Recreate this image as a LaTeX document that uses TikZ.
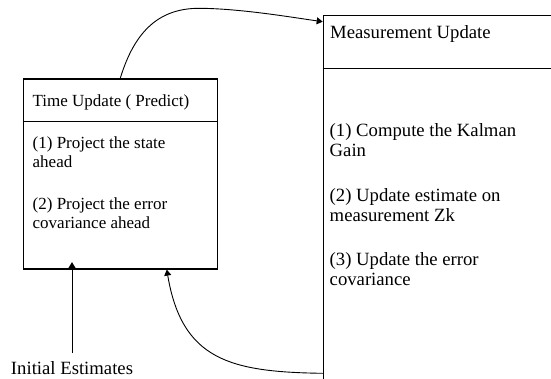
\documentclass[tikz,border=0pt]{standalone}
\usepackage{fontspec}
\setmainfont{Liberation Serif}
\usetikzlibrary{arrows.meta}
\begin{document}
\begin{tikzpicture}[x=1pt,y=-1pt,
  blk/.style={draw=black,line width=1.3pt,rectangle,anchor=north west,inner sep=0pt},
  txl/.style={anchor=base west,inner sep=0pt,font=\fontsize{17}{19.4}\selectfont},
  txr/.style={anchor=base west,inner sep=0pt,font=\fontsize{18.7}{20}\selectfont},
  arr/.style={line width=0.9pt,-{Triangle[length=6pt,width=7pt]}}]
\useasboundingbox (0,0) rectangle (551,378);
\clip (0,0) rectangle (551,378);
% boxes
\node[blk,minimum width=193.8pt,minimum height=190pt] (TU) at (22.7,78.3) {};
\node[blk,minimum width=300pt,minimum height=400pt] (MU) at (322.7,15) {};
\draw[line width=1.3pt] ([yshift=-43.2pt]TU.north west) -- ([yshift=-43.2pt]TU.north east);
\draw[line width=1.3pt] ([yshift=-53.3pt]MU.north west) -- ([yshift=-53.3pt]MU.north east);
% texts
\node[txl] (TA) at (32.5,106.7) {Time Update ( Predict)};
\node[txl] (TB) at (32.5,148.3) {\begin{tabular}[t]{@{}l@{}}(1) Project the state\\ahead\end{tabular}};
\node[txl] (TC) at (32.5,209) {\begin{tabular}[t]{@{}l@{}}(2) Project the error\\covariance ahead\end{tabular}};
\node[txr] (MA) at (330,38.3) {Measurement Update};
\node[txr] (MB) at (329.5,136.7) {\begin{tabular}[t]{@{}l@{}}(1) Compute the Kalman\\Gain\end{tabular}};
\node[txr] (MC) at (329.5,201) {\begin{tabular}[t]{@{}l@{}}(2) Update estimate on\\measurement Zk\end{tabular}};
\node[txr] (MD) at (329.5,265.7) {\begin{tabular}[t]{@{}l@{}}(3) Update the error\\covariance\end{tabular}};
\node[txr,anchor=base] (IE) at (72,374) {Initial Estimates};
% arrows
\draw[arr] (TU.north) .. controls (135,30) and (160,8) .. (200,8.3)
  .. controls (240,8.6) and (290,17) .. ([yshift=-6.7pt]MU.north west);
\draw[arr] ([yshift=-358.3pt]MU.north west) .. controls (230,372) and (182,360) .. ([xshift=46.5pt]TU.south);
\draw[arr] ([yshift=7.5pt]IE.north) -- ([yshift=7.5pt]IE.north |- TU.south);
\end{tikzpicture}
\end{document}
